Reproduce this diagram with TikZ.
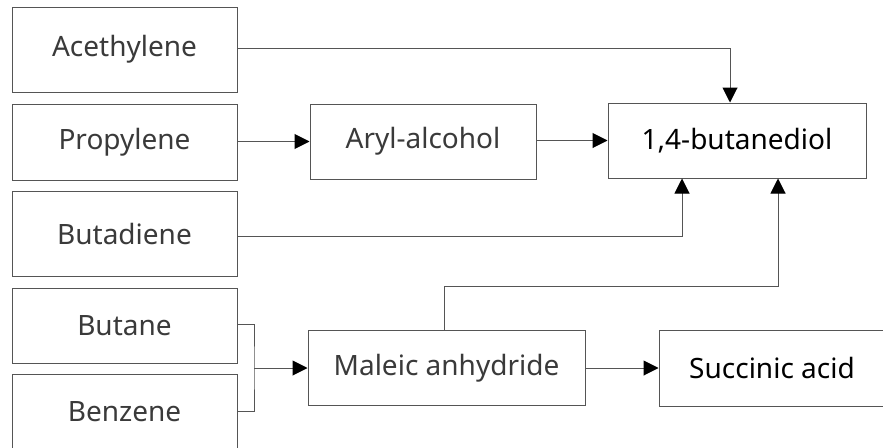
\documentclass[tikz,border=0pt]{standalone}
\usepackage{fontspec}
\setmainfont{Noto Sans}
\usetikzlibrary{arrows.meta}
\definecolor{linegray}{HTML}{555555}
\definecolor{txtgray}{HTML}{3A3A3A}
\tikzset{
  box/.style={draw=linegray, line width=1pt, minimum height=76pt, inner sep=0pt, font=\fontsize{28}{32}\selectfont, text=txtgray},
  darkbox/.style={box, text=black},
  conn/.style={draw=linegray, line width=1pt},
  arr/.style={conn, -{Triangle[length=15pt,width=15pt,color=black,fill=black]}}
}
\begin{document}
\begin{tikzpicture}[x=1pt,y=-1pt]
\useasboundingbox (0,0) rectangle (883,447);
\clip (0,0) rectangle (883,447);
\fill[white] (0,0) rectangle (883,447);
\node[box, minimum width=225pt, minimum height=85pt] (acet) at (124.5,49.5) {Acethylene};
\node[box, minimum width=225pt] (prop) at (124.5,142) {Propylene};
\node[box, minimum width=225pt, minimum height=85pt] (buta) at (124.5,233.5) {Butadiene};
\node[box, minimum width=225pt, minimum height=75pt] (butane) at (124.5,325.5) {Butane};
\node[box, minimum width=225pt] (benz) at (124.5,412) {Benzene};
\node[box, minimum width=226pt, minimum height=75pt] (aryl) at (423,141.5) {Aryl-alcohol};
\node[darkbox, minimum width=258pt, minimum height=75pt] (bd) at (737,140.5) {1,4-butanediol};
\node[box, minimum width=277pt, minimum height=75pt] (mal) at (446.5,368) {Maleic anhydride};
\node[darkbox, minimum width=226pt] (succ) at (772,368) {Succinic acid};
\coordinate (br) at (254,368);
\coordinate (mtop) at (444,286);
% connectors
\draw[arr] (acet.east |- 0,48) -| ([xshift=-7pt]bd.north);
\draw[arr] (prop.east |- aryl.west) -- (aryl.west);
\draw[arr] (aryl.east |- bd.west) -- (bd.west);
\draw[arr] (buta.east |- 0,236) -| ([xshift=-55pt]bd.south);
\draw[arr] ([xshift=-2.5pt]mal.north) -- (mtop) -| ([xshift=41pt]bd.south);
\draw[conn] (butane.east |- 0,324) -| (br) |- (benz.east |- 0,411);
\draw[arr] (br) -- (mal.west);
\draw[arr] (mal.east) -- (succ.west);
\end{tikzpicture}
\end{document}
